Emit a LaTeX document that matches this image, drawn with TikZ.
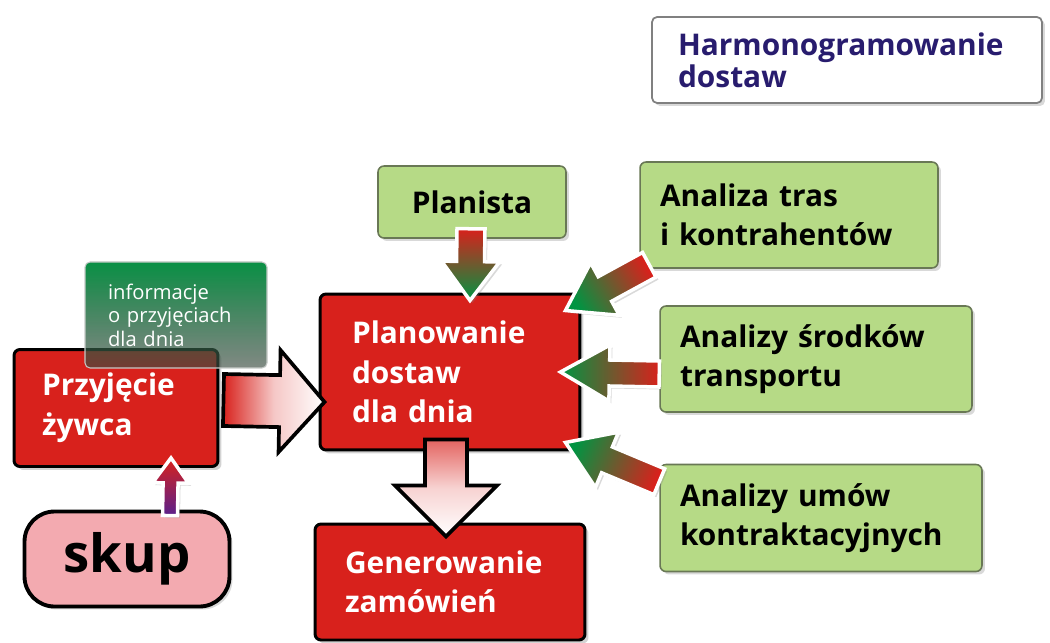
\documentclass[tikz,border=0pt]{standalone}
\usepackage{fontspec}
\setmainfont{Open Sans}
\usetikzlibrary{calc,shadows,fadings}
\hyphenpenalty=10000
\definecolor{boxred}{RGB}{216,33,28}
\definecolor{leafgreen}{RGB}{182,218,134}
\definecolor{leafedge}{RGB}{105,120,85}
\definecolor{arrgreen}{RGB}{0,148,66}
\definecolor{skuppink}{RGB}{243,170,176}
\definecolor{navytext}{RGB}{40,28,110}
\definecolor{infotop}{RGB}{8,144,68}
\definecolor{infobot}{RGB}{60,75,65}
\definecolor{skupviolet}{RGB}{90,32,140}
\tikzfading[name=infofade, top color=transparent!0, bottom color=transparent!35]
% block arrow: style, tail, tip, shaft half width, head half width, head length
\newcommand{\blockarrow}[6][]{%
  \path[#1] ($(#2)!#4!-90:(#3)$) -- ($(#3)!#6!(#2)!#4!-90:(#3)$) -- ($(#3)!#6!(#2)!#5!-90:(#3)$)
    -- (#3) -- ($(#3)!#6!(#2)!#5!90:(#3)$) -- ($(#3)!#6!(#2)!#4!90:(#3)$) -- ($(#2)!#4!90:(#3)$) -- cycle;}
\begin{document}
\begin{tikzpicture}[x=0.02cm, y=-0.02cm,
  redbox/.style={draw=black, line width=1.7pt, fill=boxred, rounded corners=1.2mm, text=white,
    font=\bfseries\fontsize{17}{22.5}\selectfont, align=left, inner ysep=0pt,
    drop shadow={opacity=0.35, shadow xshift=0.7mm, shadow yshift=-0.7mm}},
  greenbox/.style={draw=leafedge, line width=0.9pt, fill=leafgreen, rounded corners=1.2mm,
    font=\bfseries\fontsize{17}{22.5}\selectfont, align=left, inner ysep=0pt,
    drop shadow={opacity=0.3, shadow xshift=0.6mm, shadow yshift=-0.6mm}},
  bigarrow/.style={draw=black, line width=2.1pt, line join=miter},
  feedarrow/.style={draw=white, line width=2pt, line join=miter,
    drop shadow={opacity=0.3, shadow xshift=0.5mm, shadow yshift=-0.5mm}}]
\useasboundingbox (0,0) rectangle (1050,642);
\node[draw=gray, line width=1pt, fill=white, rounded corners=1mm, text=navytext,
  font=\bfseries\fontsize{17}{18}\selectfont, align=left, inner ysep=0pt,
  minimum width=78mm, minimum height=17.2mm, inner xsep=5.2mm, text width=67.6mm,
  drop shadow={opacity=0.3, shadow xshift=0.6mm, shadow yshift=-0.6mm}]
  (harmon) at (847,60) {Harmonogramowanie\\dostaw};
\node[redbox, minimum width=52mm, minimum height=31.2mm, inner xsep=6.4mm, text width=39.2mm]
  (plan) at (450,372) {Planowanie\\dostaw\\dla dnia};
\node[redbox, minimum width=40.8mm, minimum height=23.4mm, inner xsep=5.6mm, text width=29.6mm]
  (przyj) at (116,408) {Przyjęcie\\żywca};
\node[redbox, minimum width=54mm, minimum height=23.2mm, inner xsep=6mm, text width=42mm]
  (gen) at (450,582) {Generowanie\\zamówień};
\node[greenbox, align=center, minimum width=37.6mm, minimum height=14.4mm]
  (planista) at (472,202) {Planista};
\node[greenbox, minimum width=59.6mm, minimum height=21.2mm, inner xsep=4mm, text width=51.6mm]
  (tras) at (789,215) {Analiza tras\\i kontrahentów};
\node[greenbox, minimum width=62.4mm, minimum height=21.2mm, inner xsep=4mm, text width=54.4mm]
  (srodki) at (816,359) {Analizy środków\\transportu};
\node[greenbox, minimum width=64.4mm, minimum height=21.4mm, inner xsep=4mm, text width=56.4mm]
  (umowy) at (821,518) {Analizy umów\\kontraktacyjnych};
\node[draw=black, line width=2.2pt, fill=skuppink, rounded corners=6mm,
  font=\bfseries\fontsize{30}{30}\selectfont, minimum width=41mm, minimum height=19mm,
  drop shadow={opacity=0.3, shadow xshift=0.6mm, shadow yshift=-0.6mm}]
  (skup) at (127,559) {skup};
\coordinate (t1) at ($(przyj.east)+(4,-8)$);
\coordinate (h1) at ($(plan.west)+(6,30)$);
\coordinate (t2) at ($(plan.south)+(-4,-12)$);
\coordinate (h2) at ($(gen.north)+(-4,14)$);
\coordinate (t3) at ($(planista.south)+(-1,-10)$);
\coordinate (h3) at ($(plan.north)+(20,8)$);
\coordinate (t4) at ($(tras.south west)+(10,-4)$);
\coordinate (h4) at ($(plan.north east)+(-16,18)$);
\coordinate (t5) at ($(srodki.west)+(0,15)$);
\coordinate (h5) at ($(plan.east)+(-21,0)$);
\coordinate (t6) at ($(umowy.north west)+(0,18)$);
\coordinate (h6) at ($(plan.south east)+(-16,-9)$);
\coordinate (t7) at ($(skup.north)+(43,6)$);
\coordinate (h7) at ($(przyj.south)+(55,-10)$);
\blockarrow[bigarrow, left color=boxred, right color=white, middle color=boxred!25!white]{t1}{h1}{5.2mm}{10.2mm}{9mm}
\blockarrow[bigarrow, top color=boxred!70!white, bottom color=white, middle color=boxred!20!white]{t2}{h2}{4.2mm}{10.2mm}{10.2mm}
\blockarrow[feedarrow, top color=boxred, bottom color=arrgreen]{t3}{h3}{2.8mm}{5.8mm}{7.8mm}
\blockarrow[feedarrow, top color=boxred, bottom color=arrgreen, shading angle=-60]{t4}{h4}{2.8mm}{6mm}{9mm}
\blockarrow[feedarrow, left color=arrgreen, right color=boxred]{t5}{h5}{2.6mm}{5.6mm}{9.8mm}
\blockarrow[feedarrow, top color=boxred, bottom color=arrgreen, shading angle=-113]{t6}{h6}{2.8mm}{6mm}{9mm}
\blockarrow[feedarrow, top color=boxred, bottom color=skupviolet]{t7}{h7}{1.5mm}{3.6mm}{5mm}
\node[draw=white!70!infobot, line width=0.6pt, rounded corners=1mm, text=white,
  preaction={top color=infotop, bottom color=infobot, path fading=infofade},
  font=\fontsize{11.5}{13.3}\selectfont, align=left,
  inner ysep=0pt, minimum width=36.4mm, minimum height=21.2mm, inner xsep=4.6mm, text width=27.2mm]
  (info) at (176,315) {informacje\\o przyjęciach\\dla dnia};
\end{tikzpicture}
\end{document}
